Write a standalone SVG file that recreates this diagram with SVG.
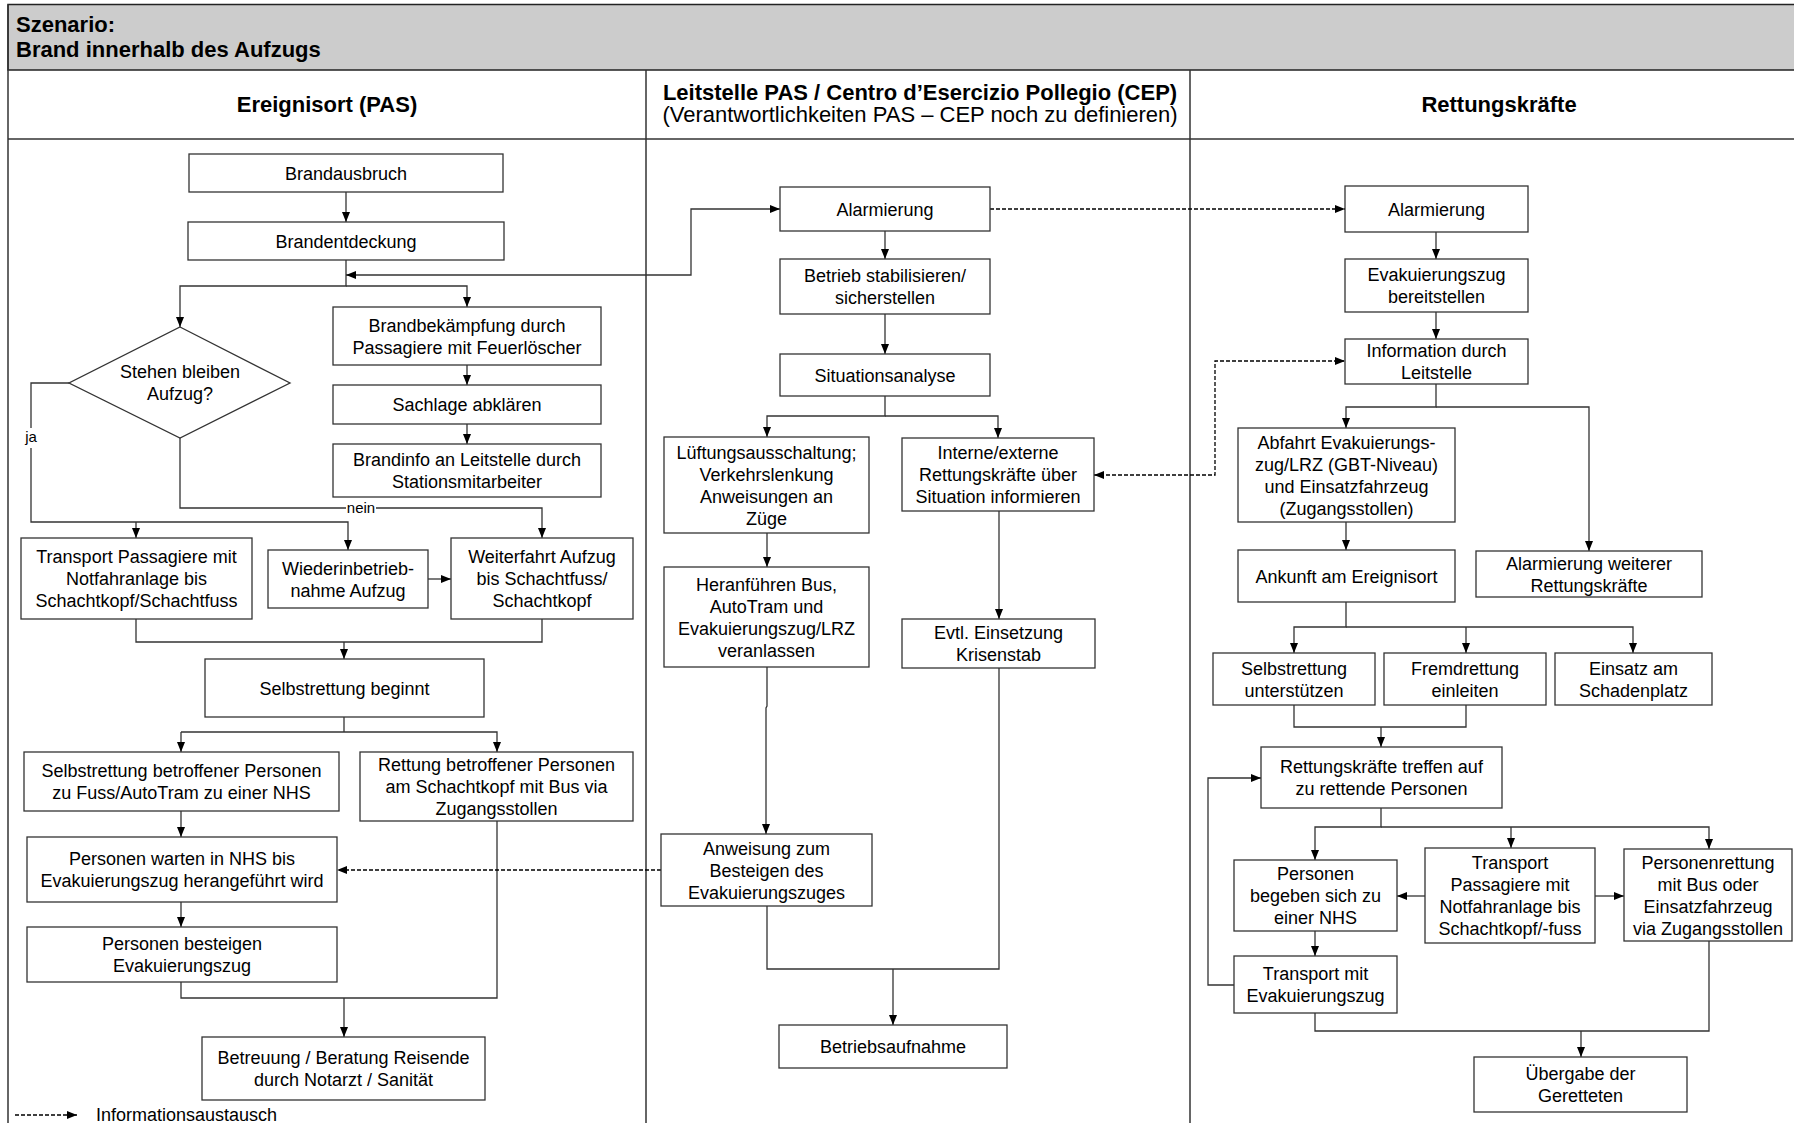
<svg xmlns="http://www.w3.org/2000/svg" width="1794" height="1123" viewBox="0 0 1794 1123">
<style>
.box{fill:#fff;stroke:#333;stroke-width:1.3}
.t{font-family:"Liberation Sans",Arial,sans-serif;font-size:18px;text-anchor:middle;fill:#000}
.ts{font-family:"Liberation Sans",Arial,sans-serif;font-size:18px;text-anchor:start;fill:#000}
.lbl{font-family:"Liberation Sans",Arial,sans-serif;font-size:15px;text-anchor:middle;fill:#000}
.h{font-family:"Liberation Sans",Arial,sans-serif;font-size:22px;font-weight:bold;fill:#000}
.hn{font-family:"Liberation Sans",Arial,sans-serif;font-size:22px;fill:#000}
.ln{fill:none;stroke:#333;stroke-width:1.3}
.ar{marker-end:url(#ah)}
.dash{fill:none;stroke:#000;stroke-width:1.3;stroke-dasharray:4 2}
.frame{fill:none;stroke:#333;stroke-width:1.5}
</style>
<defs>
<marker id="ah" markerUnits="userSpaceOnUse" markerWidth="10" markerHeight="8" refX="10" refY="4" orient="auto-start-reverse">
<path d="M0,0 L10,4 L0,8 z" fill="#000"/>
</marker>
</defs>
<rect x="0" y="0" width="1794" height="1123" fill="#fff"/>
<g id="frame">
<rect x="8" y="4.5" width="1790" height="65.5" fill="#cccccc" stroke="#222" stroke-width="1.5"/>
<line class="frame" x1="8" y1="139" x2="1794" y2="139"/>
<line class="frame" x1="8" y1="4.5" x2="8" y2="1123"/>
<line class="frame" x1="646" y1="70" x2="646" y2="1123"/>
<line class="frame" x1="1190" y1="70" x2="1190" y2="1123"/>
<text class="h" x="16" y="32">Szenario:</text>
<text class="h" x="16" y="57">Brand innerhalb des Aufzugs</text>
<text class="h" x="327" y="112" text-anchor="middle">Ereignisort (PAS)</text>
<text class="h" x="920" y="100" text-anchor="middle">Leitstelle PAS / Centro d’Esercizio Pollegio (CEP)</text>
<text class="hn" x="920" y="122" text-anchor="middle">(Verantwortlichkeiten PAS – CEP noch zu definieren)</text>
<text class="h" x="1499" y="112" text-anchor="middle">Rettungskräfte</text>
</g>
<g id="connectors">
<path class="ln ar" d="M346,192 V222"/>
<path class="ln ar" d="M346,260 V286 H180 V327"/>
<path class="ln ar" d="M346,286 H467 V307"/>
<path class="ln" d="M780,209 H691 V275 H346" marker-start="url(#ah)" marker-end="url(#ah)"/>
<path class="ln ar" d="M467,365 V385"/>
<path class="ln ar" d="M467,424 V444"/>
<path class="ln ar" d="M69,383 H31 V522 H348 V550"/>
<path class="ln ar" d="M136,522 V538"/>
<path class="ln ar" d="M180,438 V508 H542 V538"/>
<path class="ln ar" d="M428,579 H451"/>
<path class="ln" d="M136,619 V642 H542 V619"/>
<path class="ln ar" d="M344,642 V659"/>
<path class="ln" d="M344,717 V732"/>
<path class="ln ar" d="M181,732 H497 V752"/>
<path class="ln ar" d="M181,732 V752"/>
<path class="ln ar" d="M181,811 V837"/>
<path class="ln ar" d="M181,902 V927"/>
<path class="ln" d="M181,982 V998 H497 V821"/>
<path class="ln ar" d="M344,998 V1037"/>
<path class="ln ar" d="M885,231 V259"/>
<path class="ln ar" d="M885,314 V354"/>
<path class="ln ar" d="M885,396 V416 H767 V437"/>
<path class="ln ar" d="M885,416 H998 V438"/>
<path class="ln ar" d="M767,533 V567"/>
<path class="ln ar" d="M767,667 V706 L766,708 V834"/>
<path class="ln ar" d="M999,511 V619"/>
<path class="ln" d="M767,906 V969 H999 V668"/>
<path class="ln ar" d="M893,969 V1025"/>
<path class="ln ar" d="M1436,232 V259"/>
<path class="ln ar" d="M1436,312 V339"/>
<path class="ln ar" d="M1436,384 V407 H1346 V428"/>
<path class="ln ar" d="M1436,407 H1589 V551"/>
<path class="ln ar" d="M1346,522 V550"/>
<path class="ln ar" d="M1346,602 V627 H1294 V653"/>
<path class="ln ar" d="M1346,627 H1633 V653"/>
<path class="ln ar" d="M1466,627 V653"/>
<path class="ln" d="M1294,705 V727 H1466 V705"/>
<path class="ln ar" d="M1381,727 V747"/>
<path class="ln ar" d="M1381,808 V827 H1315 V860"/>
<path class="ln ar" d="M1381,827 H1709 V849"/>
<path class="ln ar" d="M1511,827 V848"/>
<path class="ln ar" d="M1425,896 H1397"/>
<path class="ln ar" d="M1595,896 H1624"/>
<path class="ln ar" d="M1315,931 V956"/>
<path class="ln ar" d="M1234,985 H1208 V778 H1261"/>
<path class="ln" d="M1315,1013 V1031 H1709 V941"/>
<path class="ln ar" d="M1581,1031 V1057"/>
<path class="dash ar" d="M990,209 H1345"/>
<path class="dash" d="M1094,475 H1215 V361 H1345" marker-start="url(#ah)" marker-end="url(#ah)"/>
<path class="dash ar" d="M661,870 H337"/>
<rect x="23" y="428" width="16" height="20" fill="#fff"/>
<text class="lbl" x="31" y="442">ja</text>
<rect x="346" y="500" width="30" height="16" fill="#fff"/>
<text class="lbl" x="361" y="513">nein</text>
</g>
<g id="legend">
<path class="dash ar" d="M15,1115 H77"/>
<text class="ts" x="96" y="1121">Informationsaustausch</text>
</g>
<g id="n1"><rect class="box" x="189" y="154" width="314" height="38"/><text class="t" x="346" y="179.5">Brandausbruch</text></g>
<g id="n2"><rect class="box" x="188" y="222" width="316" height="38"/><text class="t" x="346" y="247.5">Brandentdeckung</text></g>
<g id="n3"><rect class="box" x="333" y="307" width="268" height="58"/><text class="t" x="467" y="331.5">Brandbekämpfung durch</text><text class="t" x="467" y="353.5">Passagiere mit Feuerlöscher</text></g>
<g id="n4"><rect class="box" x="333" y="385" width="268" height="39"/><text class="t" x="467" y="411">Sachlage abklären</text></g>
<g id="n5"><rect class="box" x="333" y="444" width="268" height="53"/><text class="t" x="467" y="466">Brandinfo an Leitstelle durch</text><text class="t" x="467" y="488">Stationsmitarbeiter</text></g>
<g id="d1"><polygon class="box" points="180,327 290,383 180,438 69,383"/><text class="t" x="180" y="378">Stehen bleiben</text><text class="t" x="180" y="400">Aufzug?</text></g>
<g id="n6"><rect class="box" x="21" y="538" width="231" height="81"/><text class="t" x="136.5" y="563">Transport Passagiere mit</text><text class="t" x="136.5" y="585">Notfahranlage bis</text><text class="t" x="136.5" y="607">Schachtkopf/Schachtfuss</text></g>
<g id="n7"><rect class="box" x="268" y="550" width="160" height="58"/><text class="t" x="348" y="574.5">Wiederinbetrieb-</text><text class="t" x="348" y="596.5">nahme Aufzug</text></g>
<g id="n8"><rect class="box" x="451" y="538" width="182" height="81"/><text class="t" x="542" y="563">Weiterfahrt Aufzug</text><text class="t" x="542" y="585">bis Schachtfuss/</text><text class="t" x="542" y="607">Schachtkopf</text></g>
<g id="n9"><rect class="box" x="205" y="659" width="279" height="58"/><text class="t" x="344.5" y="694.5">Selbstrettung beginnt</text></g>
<g id="n10"><rect class="box" x="24" y="752" width="315" height="59"/><text class="t" x="181.5" y="777">Selbstrettung betroffener Personen</text><text class="t" x="181.5" y="799">zu Fuss/AutoTram zu einer NHS</text></g>
<g id="n11"><rect class="box" x="360" y="752" width="273" height="69"/><text class="t" x="496.5" y="771">Rettung betroffener Personen</text><text class="t" x="496.5" y="793">am Schachtkopf mit Bus via</text><text class="t" x="496.5" y="815">Zugangsstollen</text></g>
<g id="n12"><rect class="box" x="27" y="837" width="310" height="65"/><text class="t" x="182" y="865">Personen warten in NHS bis</text><text class="t" x="182" y="887">Evakuierungszug herangeführt wird</text></g>
<g id="n13"><rect class="box" x="27" y="927" width="310" height="55"/><text class="t" x="182" y="950">Personen besteigen</text><text class="t" x="182" y="972">Evakuierungszug</text></g>
<g id="n14"><rect class="box" x="202" y="1037" width="283" height="63"/><text class="t" x="343.5" y="1064">Betreuung / Beratung Reisende</text><text class="t" x="343.5" y="1086">durch Notarzt / Sanität</text></g>
<g id="m1"><rect class="box" x="780" y="187" width="210" height="44"/><text class="t" x="885" y="215.5">Alarmierung</text></g>
<g id="m2"><rect class="box" x="780" y="259" width="210" height="55"/><text class="t" x="885" y="282">Betrieb stabilisieren/</text><text class="t" x="885" y="304">sicherstellen</text></g>
<g id="m3"><rect class="box" x="780" y="354" width="210" height="42"/><text class="t" x="885" y="381.5">Situationsanalyse</text></g>
<g id="m4"><rect class="box" x="664" y="437" width="205" height="96"/><text class="t" x="766.5" y="458.5">Lüftungsausschaltung;</text><text class="t" x="766.5" y="480.5">Verkehrslenkung</text><text class="t" x="766.5" y="502.5">Anweisungen an</text><text class="t" x="766.5" y="524.5">Züge</text></g>
<g id="m5"><rect class="box" x="902" y="438" width="192" height="73"/><text class="t" x="998" y="459">Interne/externe</text><text class="t" x="998" y="481">Rettungskräfte über</text><text class="t" x="998" y="503">Situation informieren</text></g>
<g id="m6"><rect class="box" x="664" y="567" width="205" height="100"/><text class="t" x="766.5" y="590.5">Heranführen Bus,</text><text class="t" x="766.5" y="612.5">AutoTram und</text><text class="t" x="766.5" y="634.5">Evakuierungszug/LRZ</text><text class="t" x="766.5" y="656.5">veranlassen</text></g>
<g id="m7"><rect class="box" x="902" y="619" width="193" height="49"/><text class="t" x="998.5" y="639">Evtl. Einsetzung</text><text class="t" x="998.5" y="661">Krisenstab</text></g>
<g id="m8"><rect class="box" x="661" y="834" width="211" height="72"/><text class="t" x="766.5" y="854.5">Anweisung zum</text><text class="t" x="766.5" y="876.5">Besteigen des</text><text class="t" x="766.5" y="898.5">Evakuierungszuges</text></g>
<g id="m9"><rect class="box" x="779" y="1025" width="228" height="43"/><text class="t" x="893" y="1053">Betriebsaufnahme</text></g>
<g id="r1"><rect class="box" x="1345" y="186" width="183" height="46"/><text class="t" x="1436.5" y="215.5">Alarmierung</text></g>
<g id="r2"><rect class="box" x="1345" y="259" width="183" height="53"/><text class="t" x="1436.5" y="281">Evakuierungszug</text><text class="t" x="1436.5" y="303">bereitstellen</text></g>
<g id="r3"><rect class="box" x="1345" y="339" width="183" height="45"/><text class="t" x="1436.5" y="357">Information durch</text><text class="t" x="1436.5" y="379">Leitstelle</text></g>
<g id="r4"><rect class="box" x="1238" y="428" width="217" height="94"/><text class="t" x="1346.5" y="448.5">Abfahrt Evakuierungs-</text><text class="t" x="1346.5" y="470.5">zug/LRZ (GBT-Niveau)</text><text class="t" x="1346.5" y="492.5">und Einsatzfahrzeug</text><text class="t" x="1346.5" y="514.5">(Zugangsstollen)</text></g>
<g id="r5"><rect class="box" x="1238" y="550" width="217" height="52"/><text class="t" x="1346.5" y="582.5">Ankunft am Ereignisort</text></g>
<g id="r6"><rect class="box" x="1476" y="551" width="226" height="46"/><text class="t" x="1589" y="569.5">Alarmierung weiterer</text><text class="t" x="1589" y="591.5">Rettungskräfte</text></g>
<g id="r7"><rect class="box" x="1213" y="653" width="162" height="52"/><text class="t" x="1294" y="674.5">Selbstrettung</text><text class="t" x="1294" y="696.5">unterstützen</text></g>
<g id="r8"><rect class="box" x="1384" y="653" width="162" height="52"/><text class="t" x="1465" y="674.5">Fremdrettung</text><text class="t" x="1465" y="696.5">einleiten</text></g>
<g id="r9"><rect class="box" x="1555" y="653" width="157" height="52"/><text class="t" x="1633.5" y="674.5">Einsatz am</text><text class="t" x="1633.5" y="696.5">Schadenplatz</text></g>
<g id="r10"><rect class="box" x="1261" y="747" width="241" height="61"/><text class="t" x="1381.5" y="773">Rettungskräfte treffen auf</text><text class="t" x="1381.5" y="795">zu rettende Personen</text></g>
<g id="r11"><rect class="box" x="1234" y="860" width="163" height="71"/><text class="t" x="1315.5" y="880">Personen</text><text class="t" x="1315.5" y="902">begeben sich zu</text><text class="t" x="1315.5" y="924">einer NHS</text></g>
<g id="r12"><rect class="box" x="1425" y="848" width="170" height="95"/><text class="t" x="1510" y="869">Transport</text><text class="t" x="1510" y="891">Passagiere mit</text><text class="t" x="1510" y="913">Notfahranlage bis</text><text class="t" x="1510" y="935">Schachtkopf/-fuss</text></g>
<g id="r13"><rect class="box" x="1624" y="849" width="168" height="92"/><text class="t" x="1708" y="868.5">Personenrettung</text><text class="t" x="1708" y="890.5">mit Bus oder</text><text class="t" x="1708" y="912.5">Einsatzfahrzeug</text><text class="t" x="1708" y="934.5">via Zugangsstollen</text></g>
<g id="r14"><rect class="box" x="1234" y="956" width="163" height="57"/><text class="t" x="1315.5" y="980">Transport mit</text><text class="t" x="1315.5" y="1002">Evakuierungszug</text></g>
<g id="r15"><rect class="box" x="1474" y="1057" width="213" height="55"/><text class="t" x="1580.5" y="1080">Übergabe der</text><text class="t" x="1580.5" y="1102">Geretteten</text></g>
</svg>
